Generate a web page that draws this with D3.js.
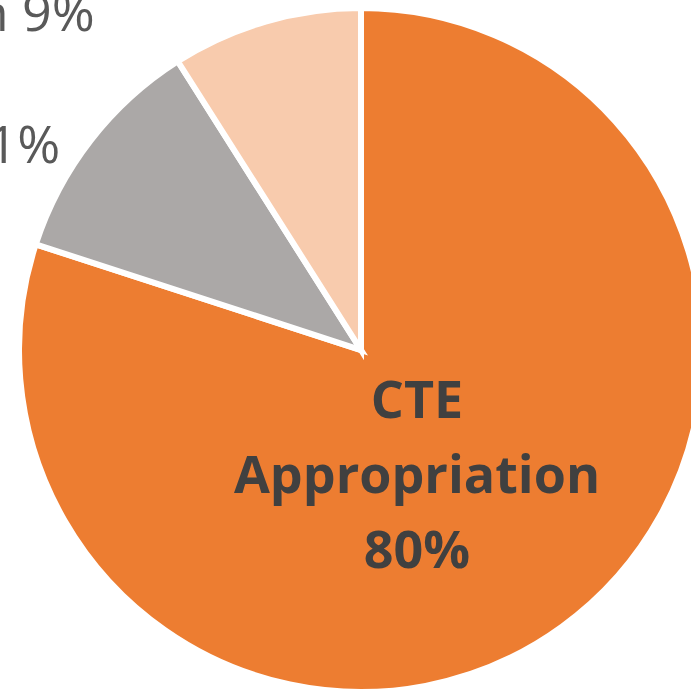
<!DOCTYPE html>
<html>
<head>
<meta charset="utf-8">
<script src="https://cdn.jsdelivr.net/npm/d3@7"></script>
<style>
  html, body { margin: 0; padding: 0; background: #fff; overflow: hidden; }
</style>
</head>
<body>
<script>
// chart data
const categories = ["CTE Appropriation", "Perkins Allocation", "Other Funding Allocation"];
const values = [80, 11, 9];
const colors = ["#ED7D31", "#ABA8A7", "#F8CBAD"];

const width = 691, height = 693;
const cx = 361, cy = 350, radius = 342;

const svg = d3.select("body")
    .append("svg")
    .attr("width", width)
    .attr("height", height);

const g = svg.append("g")
    .attr("transform", `translate(${cx},${cy})`);

const pie = d3.pie().sort(null).value(d => d);
const arcs = pie(values);

const arc = d3.arc().innerRadius(0).outerRadius(radius);

// slices
g.selectAll("path")
    .data(arcs)
    .join("path")
    .attr("d", arc)
    .attr("fill", (d, i) => colors[i])
    .attr("stroke", "#fff")
    .attr("stroke-width", 6)
    .attr("stroke-linejoin", "miter");

// inside label for the big slice
const inner = g.append("text")
    .attr("text-anchor", "middle")
    .style("font-family", "'Open Sans', sans-serif")
    .style("font-weight", "bold")
    .style("font-size", "52px")
    .attr("fill", "#404040")
    .attr("transform", "translate(56,0)");
[categories[0].split(" ")[0], categories[0].split(" ")[1], values[0] + "%"].forEach(function(t, i) {
    inner.append("tspan")
        .attr("x", 0)
        .attr("y", 68 + i * 75)
        .text(t);
});

// outside labels (cut off by the left edge)
const outerArc = d3.arc().innerRadius(radius * 1.05).outerRadius(radius * 1.05);
const labelShift = [null, [-17, 33], [-166, 26]];
arcs.forEach(function(d, i) {
    if (i === 0) return;
    const c = outerArc.centroid(d);
    g.append("text")
        .attr("x", c[0] + labelShift[i][0])
        .attr("y", c[1] + labelShift[i][1])
        .attr("text-anchor", "end")
        .style("font-family", "'Open Sans', sans-serif")
        .style("font-size", "52px")
        .attr("fill", "#595959")
        .text(categories[i] + " " + values[i] + "%");
});
</script>
</body>
</html>
